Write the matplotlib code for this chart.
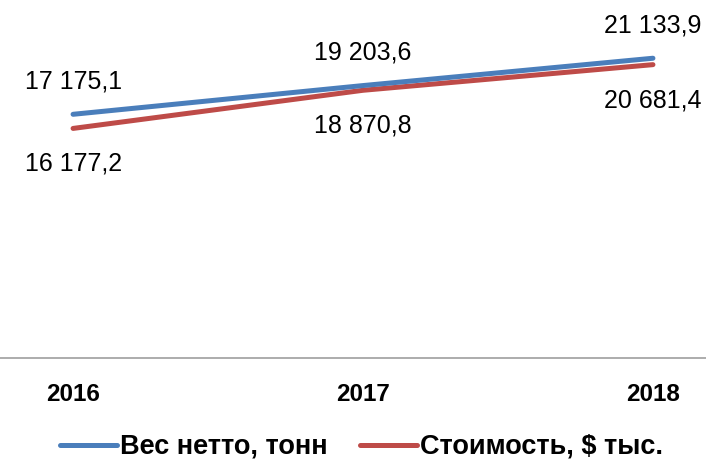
import matplotlib
matplotlib.use("Agg")
import matplotlib.pyplot as plt

years = ["2016", "2017", "2018"]
weight = [17175.1, 19203.6, 21133.9]
cost = [16177.2, 18870.8, 20681.4]
weight_labels = ["17 175,1", "19 203,6", "21 133,9"]
cost_labels = ["16 177,2", "18 870,8", "20 681,4"]
series_names = ["Вес нетто, тонн", "Стоимость, $ тыс."]

plt.rcParams['font.family'] = ['Liberation Sans', 'DejaVu Sans']

fig = plt.figure(figsize=(7.06, 4.59), dpi=100)
ax = fig.add_axes([0, 0.2211, 1, 0.7713])

x = list(range(len(years)))
blue = "#4a7ebb"
red = "#be4b48"
lb, = ax.plot(x, weight, color=blue, lw=3.6, solid_capstyle='round', zorder=3)
lr, = ax.plot(x, cost, color=red, lw=3.6, solid_capstyle='round', zorder=2)

ax.set_xlim(-0.252, 2.183)
ax.set_ylim(0, 25000)

for xi, v, t in zip(x, weight, weight_labels):
    ax.annotate(t, (xi, v), xytext=(0, 23.5), textcoords='offset points',
                ha='center', va='center', fontsize=18)
for xi, v, t in zip(x, cost, cost_labels):
    ax.annotate(t, (xi, v), xytext=(0, -25.5), textcoords='offset points',
                ha='center', va='center', fontsize=18)

for s in ['top', 'left', 'right']:
    ax.spines[s].set_visible(False)
ax.spines['bottom'].set_color('#a6a6a6')
ax.spines['bottom'].set_linewidth(1.3)
ax.set_yticks([])
ax.set_xticks(x)
ax.set_xticklabels(years, fontsize=17.5, fontweight='bold')
ax.tick_params(axis='x', length=0, pad=18)

leg = fig.legend([lb, lr], series_names, loc='center', bbox_to_anchor=(0.512, 1 - 447/459),
                 ncol=2, frameon=False, handlelength=2.1, handletextpad=0.1,
                 columnspacing=1.2, prop={'size': 19.5, 'weight': 'bold'})

fig.savefig("out.png", dpi=100)
